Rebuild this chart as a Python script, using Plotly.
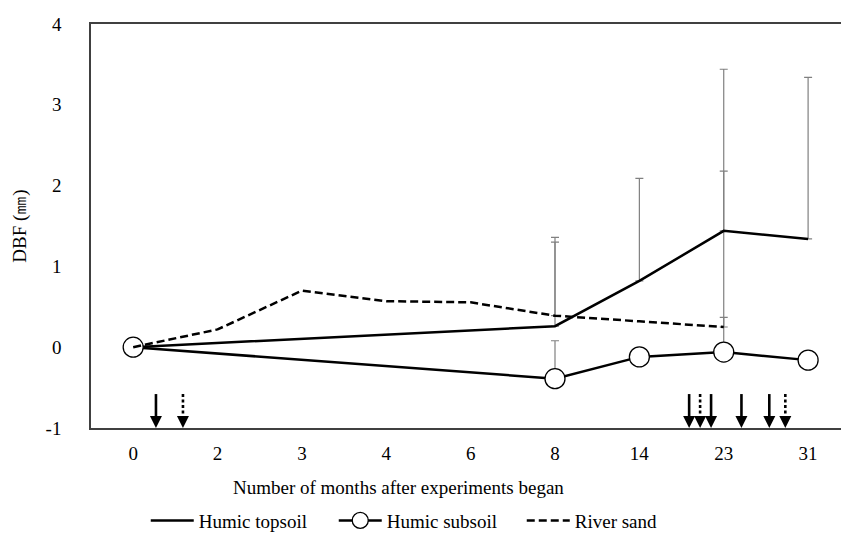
import plotly.graph_objects as go

# Sampling months (categorical positions along the x axis)
months = ["0", "2", "3", "4", "6", "8", "14", "23", "31"]

# Mean DBF (mm) per material; None = not measured at that month
humic_topsoil = [0.0, None, None, None, None, 0.26, 0.82, 1.44, 1.34]
humic_subsoil = [0.0, None, None, None, None, -0.39, -0.12, -0.06, -0.16]
river_sand = [0.0, 0.22, 0.70, 0.57, 0.555, 0.39, 0.32, 0.25, None]

# Upper error (mm) where shown
topsoil_err = [None, None, None, None, None, 1.10, 1.27, 2.00, 2.00]
subsoil_err = [None, None, None, None, None, 0.47, None, 0.43, None]
sand_err = [None, None, None, None, None, 0.91, None, 1.93, None]

# y-axis ticks
y_ticks = [-1, 0, 1, 2, 3, 4]
y_ticktext = ["-1", "0", "1", "2", "3", "4"]

# Events marked along the time axis (position in month-index units)
events_solid = [0.27, 6.59, 6.85, 7.21, 7.54]
events_dotted = [0.59, 6.72, 7.73]

FONT = "Liberation Serif, Times New Roman, serif"
FS = 19
idx = list(range(len(months)))

fig = go.Figure()

# error bars (upper only), drawn underneath the series lines
ex, ey, ee = [], [], []
for vals, errs in ((humic_topsoil, topsoil_err), (humic_subsoil, subsoil_err), (river_sand, sand_err)):
    for i, (v, e) in enumerate(zip(vals, errs)):
        if v is not None and e is not None:
            ex.append(i)
            ey.append(v)
            ee.append(e)
fig.add_trace(go.Scatter(
    x=ex, y=ey, mode="markers", marker=dict(size=1, opacity=0),
    error_y=dict(type="data", symmetric=False, array=ee, arrayminus=[0] * len(ee),
                 color="#808080", thickness=1.2, width=4),
    showlegend=False, hoverinfo="skip",
))

fig.add_trace(go.Scatter(
    x=idx, y=humic_topsoil, name="Humic topsoil", mode="lines", connectgaps=True,
    line=dict(color="black", width=2.5),
))
fig.add_trace(go.Scatter(
    x=idx, y=humic_subsoil, name="Humic subsoil", mode="lines+markers", connectgaps=True,
    line=dict(color="black", width=2.5),
    marker=dict(symbol="circle", size=20, color="white", line=dict(color="black", width=1.3)),
))
fig.add_trace(go.Scatter(
    x=idx, y=river_sand, name="River sand", mode="lines", connectgaps=True,
    line=dict(color="black", width=2.5, dash="8px,4px"),
))

# event arrows: shaft as a line, head as an arrow-down marker with its tip on the axis
SHAFT_TOP, SHAFT_BOTTOM, TIP = -0.58, -0.88, -1.0
for xs, dash in ((events_solid, "solid"), (events_dotted, "3px,2.5px")):
    sx, sy = [], []
    for x in xs:
        sx += [x, x, None]
        sy += [SHAFT_TOP, SHAFT_BOTTOM, None]
    fig.add_trace(go.Scatter(x=sx, y=sy, mode="lines", line=dict(color="black", width=2.6, dash=dash),
                             showlegend=False, hoverinfo="skip", cliponaxis=False))
    fig.add_trace(go.Scatter(x=xs, y=[TIP] * len(xs), mode="markers",
                             marker=dict(symbol="arrow-down", size=12, color="black", line=dict(width=0)),
                             showlegend=False, hoverinfo="skip", cliponaxis=False))

fig.add_annotation(
    text="Number of months after experiments began", xref="paper", yref="paper",
    x=(398 - 91) / 750, y=-(490 - 430) / 406, xanchor="center", yanchor="middle",
    showarrow=False, font=dict(family=FONT, size=FS, color="black"),
)

fig.update_layout(
    width=841, height=540,
    margin=dict(l=91, r=0, t=24, b=110),
    paper_bgcolor="white", plot_bgcolor="white",
    font=dict(family=FONT, size=FS, color="black"),
    showlegend=True,
    legend=dict(orientation="h", x=0.073, xanchor="left", y=-(523 - 430) / 406, yanchor="middle",
                font=dict(family=FONT, size=FS, color="black"), itemwidth=43,
                entrywidth=130, entrywidthmode="pixels", bgcolor="rgba(0,0,0,0)"),
    xaxis=dict(range=[-0.5, 8.39], tickvals=idx, ticktext=months, showgrid=False, zeroline=False,
               showline=True, mirror=True, linecolor="#404040", linewidth=1.5, ticks="",
               ticklabelstandoff=7, tickfont=dict(family=FONT, size=FS, color="black"),
               automargin=False),
    yaxis=dict(range=[-1, 4], tickvals=y_ticks, ticktext=y_ticktext, showgrid=False, zeroline=False,
               showline=True, linecolor="#404040", linewidth=1.5, ticks="", ticklabelstandoff=24,
               tickfont=dict(family=FONT, size=FS, color="black"), automargin=False,
               title=dict(text="DBF (㎜)", font=dict(family=FONT, size=FS, color="black"), standoff=14)),
)

fig.write_html("out.html")
